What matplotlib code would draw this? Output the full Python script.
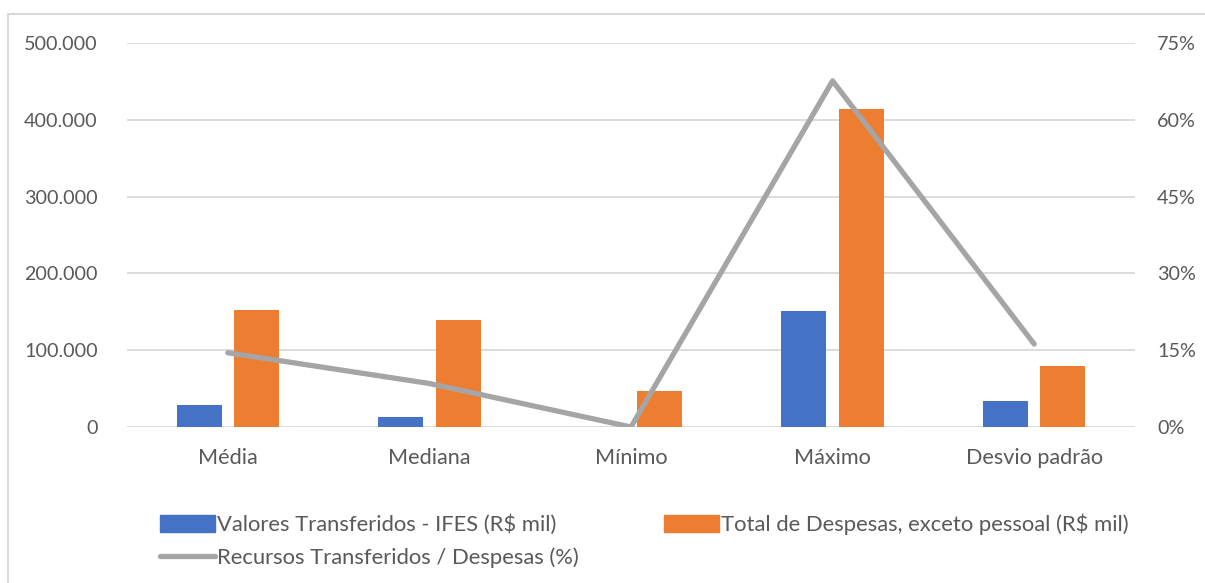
import matplotlib.pyplot as plt
import matplotlib.patches as mpatches
from matplotlib.lines import Line2D
from matplotlib.ticker import FuncFormatter
import numpy as np

# data
categorias = ['Média', 'Mediana', 'Mínimo', 'Máximo', 'Desvio padrão']
valores_transferidos = [28500, 12700, 0, 151300, 33900]       # R$ mil
total_despesas = [152600, 139000, 46500, 413500, 79600]        # R$ mil
recursos_pct = [0.145, 0.085, 0.0, 0.676, 0.162]                # fraction

nomes = ['Valores Transferidos - IFES (R$ mil)',
         'Total de Despesas, exceto pessoal (R$ mil)',
         'Recursos Transferidos / Despesas (%)']

azul = '#4472C4'
laranja = '#ED7D31'
cinza = '#A5A5A5'
texto = '#595959'
grade = '#D9D9D9'

plt.rcParams['font.family'] = ['Lato', 'DejaVu Sans']

fig = plt.figure(figsize=(12.05, 5.83), dpi=100)
ax = fig.add_axes([127 / 1205, 1 - 427 / 583, (1135 - 127) / 1205, (427 - 43) / 583])
ax2 = ax.twinx()

x = np.arange(len(categorias))
w = 0.223
ax.bar(x - 0.142, valores_transferidos, w, color=azul, zorder=2)
ax.bar(x + 0.142, total_despesas, w, color=laranja, zorder=2)
ax2.plot(x, recursos_pct, color=cinza, lw=3.8, solid_capstyle='round',
         solid_joinstyle='round', zorder=3)

ax.set_xlim(-0.5, len(categorias) - 0.5)
ax.set_ylim(0, 500000)
ax.set_yticks(np.arange(0, 500001, 100000))
ax.yaxis.set_major_formatter(FuncFormatter(lambda v, p: f'{int(v):,}'.replace(',', '.')))
ax2.set_ylim(0, 0.75)
ax2.set_yticks(np.arange(0, 0.76, 0.15))
ax2.yaxis.set_major_formatter(FuncFormatter(lambda v, p: f'{v * 100:.0f}%'))

ax.set_xticks(x)
ax.set_xticklabels(categorias)
ax.grid(axis='y', color=grade, lw=1.3, zorder=0)
ax.set_axisbelow(True)

for a in (ax, ax2):
    for s in a.spines.values():
        s.set_visible(False)
    a.tick_params(length=0, labelsize=14.2, labelcolor=texto)
ax.tick_params(axis='y', pad=21)
ax2.tick_params(axis='y', pad=16)
ax.tick_params(axis='x', pad=15, labelsize=15.6)

# legend: column order blue, gray | orange
handles = [mpatches.Patch(color=azul), Line2D([], [], color=cinza, lw=3.8, solid_capstyle='round'),
           mpatches.Patch(color=laranja)]
labels = [nomes[0], nomes[2], nomes[1]]
leg = fig.legend(handles, labels, ncol=2, loc='upper left', bbox_to_anchor=(140 / 1205, 1 - 494 / 583),
                 frameon=False, fontsize=15.8, labelcolor=texto, handlelength=2.5,
                 handleheight=0.78, handletextpad=0.1, columnspacing=3.9, labelspacing=0.55)

# chart border (cropped on right and bottom)
fig.add_artist(mpatches.Rectangle((8 / 1205, -0.1), 1.2, 1.1 - 14 / 583, transform=fig.transFigure,
                                  fill=False, edgecolor=grade, lw=1.5, clip_on=False))

fig.savefig('out.png', dpi=100)
